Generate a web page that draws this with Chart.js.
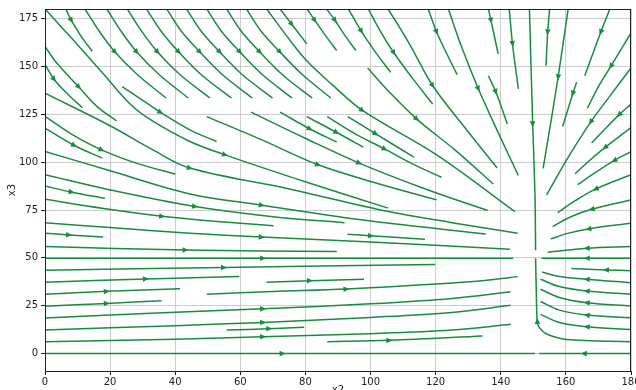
<!DOCTYPE html>
<html>
<head>
<meta charset="utf-8">
<script src="https://cdn.jsdelivr.net/npm/chart.js@4.4.0/dist/chart.umd.min.js"></script>
<style>
  html, body { margin: 0; padding: 0; background: #fff; overflow: hidden; }
  #wrap { width: 636px; height: 400px; }
</style>
</head>
<body>
<div id="wrap"><canvas id="streamCanvas" width="636" height="400"></canvas></div>
<script>
// tick labels
const xTicks = [0, 20, 40, 60, 80, 100, 120, 140, 160, 180];
const yTicks = [0, 25, 50, 75, 100, 125, 150, 175];

// streamlines, each point is [x2, x3], ordered along the flow
const topFamilyLines = [
  [[12.3,180],[16.5,168.8],[21.5,157.5],[28.5,145.5],[37.2,133.5]],
  [[19.0,180],[23.2,168.8],[28.2,157.5],[35.2,145.5],[44.0,133.5]],
  [[25.3,180],[29.5,168.8],[34.6,157.5],[41.6,145.5],[50.7,133.5]],
  [[31.2,180],[35.5,168.8],[41.1,157.5],[48.1,145.5],[57.3,133.5]],
  [[37.4,180],[41.7,168.8],[47.6,157.5],[54.6,145.5],[63.7,133.5]],
  [[43.5,180],[47.8,168.8],[53.7,157.5],[60.7,145.5],[69.9,133.5]],
  [[49.7,180],[54.0,168.8],[59.9,157.5],[66.9,145.5],[75.9,133.5]],
  [[55.8,180],[60.1,168.8],[66.0,157.5],[73.0,145.5],[82.1,133.5]],
  [[61.9,180],[66.2,168.8],[72.2,157.5],[79.2,145.5],[87.8,133.5]]
];
const topFamilyArrows = [
  [21.5,157.5],[28.2,157.5],[34.6,157.5],[41.1,157.5],[47.6,157.5],
  [53.7,157.5],[59.9,157.5],[66.0,157.5],[72.2,157.5]
];

const upperLeftLines = [
  [[6.4,180],[8.1,174],[11,166],[14.5,157.9]],
  [[0,180],[4.8,171],[9.9,161.5],[18.1,145.8],[26.3,130.1],[33,121.5],[44.5,110.8],[55.3,103.8],[80.4,89.5],[105.4,76]],
  [[0,160.5],[3.5,152],[10.4,139.2],[16,129],[22,121.5]],
  [[0,151],[2.8,143.2],[7,135.5],[11.5,128.4]],
  [[23.7,139.5],[29,133.5],[35.5,126],[44.5,116.9],[52.7,110.8]],
  [[0,136],[20,119],[33,106.5],[44.5,96.9],[75,86],[105,74.3],[125,68.4],[145.2,62.9]],
  [[0,123.9],[8,114.8],[17.4,106.4],[28,99.5],[40,93.8]],
  [[0,117.8],[9,108.7],[17.6,102.1]],
  [[0,105.6],[20,95.5],[44.5,83.4],[66.6,77.5],[100,69.2],[135.4,62.5]],
  [[0,93.4],[20,85.5],[46.1,76.8],[70,71.5],[92,68.4]],
  [[0,87.6],[8.2,84.3],[18.4,81.1]],
  [[0,80.6],[18,75.8],[36,71.7],[50,69.4],[70.2,66.8]]
];
const upperLeftArrows = [
  [8.1,174],[55.3,103.8],[10.4,139.2],[2.8,143.2],[35.5,126],[44.5,96.9],
  [17.4,106.4],[9,108.7],[66.6,77.5],[46.1,76.8],[8.2,84.3],[36,71.7]
];

const middleLines = [
  [[68.1,180],[74,166.5],[80.1,153.5],[88.2,140.5],[97.5,127],[120.3,103.8],[144.3,74.2]],
  [[99.1,149.2],[105.9,136.4],[114.2,122.5],[125.9,106.4],[137.7,88.6]],
  [[49.7,123.8],[66.8,111.5],[83.9,98.6],[101.9,89],[120.3,80.3]],
  [[63.3,126.1],[79.9,112.5],[96.5,99.5],[116.2,86.4],[136,74.7]],
  [[72.2,126.1],[81.4,117.3],[89.6,110.5]],
  [[80.4,123.8],[89.6,115.5],[97.8,107.8]],
  [[86.7,123.8],[95,115],[104.4,106.8],[113,99],[121.8,92.1]],
  [[93,123.8],[101.6,114.8],[113.3,102.6]]
];
const middleArrows = [
  [97.5,127],[114.2,122.5],[83.9,98.6],[96.5,99.5],[81.4,117.3],[89.6,115.5],[104.4,106.8],[101.6,114.8]
];

const topRightLines = [
  [[72.2,180],[75.8,172],[80.4,161.8]],
  [[80.5,180],[82.9,174],[86,166.5],[89.6,158.3]],
  [[86.5,180],[89.1,174],[92,166.5],[95.5,158.3]],
  [[93.2,180],[97.2,168.3],[101.5,157.5],[106.2,146.9]],
  [[99.3,180],[103,168.5],[107.2,157],[112.8,144],[119.1,130.3]],
  [[105.4,180],[112.1,161.3],[119.1,139.9],[129,118],[138.9,96.9]],
  [[117.7,180],[120.3,168],[123.3,157],[126.6,145.7]],
  [[123.9,180],[128.1,159.6],[133.1,138.3],[139.1,115.8],[145.4,93]],
  [[136.2,180],[137,173.9],[139.2,156.6]],
  [[136.2,145.1],[138.5,136.6],[142,119.9]],
  [[142.6,180],[143.6,161.7],[145.4,138.3]],
  [[148.8,180],[149.8,119.8],[150.5,82.9],[150.7,54]],
  [[155,180],[154.4,167.8],[153.9,150.4]],
  [[160.7,180],[157.6,144.3],[155,117],[153,96.8]],
  [[163.3,141.8],[162.1,135.7],[159,118.6]],
  [[173.5,180],[170.7,167.8],[165.8,145.1]]
];
const topRightArrows = [
  [75.8,172],[82.9,174],[89.1,174],[97.2,168.3],[107.2,157],[119.1,139.9],[120.3,168],[133.1,138.3],
  [137,173.9],[138.5,136.6],[143.6,161.7],[149.8,119.8],[154.4,167.8],[157.6,144.3],[162.1,135.7],[170.7,167.8]
];

const rightLines = [
  [[180,167.5],[173.8,150],[170,139.5],[166.6,128.2]],
  [[180,149.2],[173.5,134.5],[167.6,120.9],[160.6,102.2],[154.1,82.9]],
  [[180,130.3],[176.3,124.7],[172,117.3],[167.9,110]],
  [[180,118.1],[172,107.6],[167,100.5],[162.8,93.9]],
  [[180,105.5],[174.8,100.8],[169,94.5],[163.6,88.2]],
  [[180,93.4],[169.1,85.9],[163,80],[157.5,73.6]],
  [[180,80.3],[167.9,75.4],[161.5,71.5],[155.9,66.3]],
  [[180,68.1],[166.9,65.1],[160.5,62.8],[155.3,59.9]],
  [[180,55.9],[166.4,55],[154.4,52.9]],
  [[180,49.8],[166.4,49.8],[152.5,49.8]],
  [[180,43.3],[172.3,43.7],[161.7,44.4]],
  [[180,37],[166.4,38.8],[158,40.3],[152.7,42.6]],
  [[180,31],[166.4,32.7],[158,35],[152.2,38.8]],
  [[180,24.8],[166.4,26.6],[158,29.3],[152.2,33.6]],
  [[180,18.7],[166.4,20.1],[158,22.7],[152.2,27.2]],
  [[180,12.6],[166.4,14],[158,16.2],[152.2,20.5]],
  [[180,6.2],[160.2,7.4],[154.1,10.2],[151.8,13.7],[151.2,17],[150.9,33],[150.7,49.8]],
  [[180,0],[165.5,0],[151.8,0]]
];
const rightArrows = [
  [173.8,150],[167.6,120.9],[176.3,124.7],[172,107.6],[174.8,100.8],[169.1,85.9],[167.9,75.4],[166.9,65.1],
  [166.4,55],[166.4,49.8],[172.3,43.7],[166.4,38.8],[166.4,32.7],[166.4,26.6],[166.4,20.1],[166.4,14],
  [151.2,17],[165.5,0]
];

const lowerLeftLines = [
  [[0,68.4],[20,65.8],[44.5,62.9],[66.6,60.9],[100,58.3],[142.8,54.5]],
  [[92.9,62.3],[100.1,61.5],[116.7,59.7]],
  [[0,62.9],[7.4,62],[17.9,60.9]],
  [[0,55.9],[43.2,54.1],[89.6,53.3]],
  [[0,49.8],[67,49.8],[143.8,49.8]],
  [[0,43.5],[55,45],[84.5,45.8],[119.8,46.5]],
  [[0,37.2],[31,39],[59.7,40.2]],
  [[68,37.2],[81.4,38.1],[98,38.8]],
  [[0,31],[19,32.5],[41.5,33.9]],
  [[49.7,31],[70,32.4],[92.6,33.7],[120,36.3],[135,38.2],[145.2,40.2]],
  [[0,24.7],[19,26.2],[35.8,27.6]],
  [[0,18.6],[40,21.6],[67,23.4],[100,26],[125,28.8],[143,32.3]],
  [[0,12.3],[40,14.6],[67,16.3],[100,18.9],[125,21.5],[143,25.2]],
  [[55.8,12.3],[68.9,13],[79.6,13.7]],
  [[0,6.2],[40,7.5],[67,8.8],[100,10.4],[125,12.3],[143.1,15.3]],
  [[86.7,6.2],[105.8,6.9],[134.4,9.2]],
  [[0,0],[73,0],[150.5,0]]
];
const lowerLeftArrows = [
  [66.6,60.9],[100.1,61.5],[7.4,62],[43.2,54.1],[67,49.8],[55,45],[31,39],[81.4,38.1],
  [19,32.5],[92.6,33.7],[19,26.2],[67,23.4],[67,16.3],[68.9,13],[67,8.8],[105.8,6.9],[73,0]
];

const lineColor = '#1a8c3e';

function makeDatasets(lines, arrows) {
  return lines.map((line, i) => ({
    data: line.map(p => ({ x: p[0], y: p[1] })),
    arrow: arrows[i],
    showLine: true,
    borderColor: lineColor,
    borderWidth: 1.5,
    pointRadius: 0,
    tension: 0.35,
    fill: false
  }));
}

const datasets = [].concat(
  makeDatasets(topFamilyLines, topFamilyArrows),
  makeDatasets(upperLeftLines, upperLeftArrows),
  makeDatasets(middleLines, middleArrows),
  makeDatasets(topRightLines, topRightArrows),
  makeDatasets(rightLines, rightArrows),
  makeDatasets(lowerLeftLines, lowerLeftArrows)
);

// arrow heads at the marked point of each streamline, plus the box round the axes
const arrowPlugin = {
  id: 'arrowHeads',
  afterDatasetsDraw(chart) {
    const ctx = chart.ctx;
    const xs = chart.scales.x, ys = chart.scales.y;
    ctx.save();
    chart.data.datasets.forEach(ds => {
      if (!ds.arrow) return;
      const px = xs.getPixelForValue(ds.arrow[0]);
      const py = ys.getPixelForValue(ds.arrow[1]);
      const pts = ds.data.map(d => [xs.getPixelForValue(d.x), ys.getPixelForValue(d.y)]);
      let best = Infinity, idx = 0;
      pts.forEach((p, i) => {
        const d = Math.hypot(p[0] - px, p[1] - py);
        if (d < best) { best = d; idx = i; }
      });
      const a = pts[Math.max(idx - 1, 0)], b = pts[Math.min(idx + 1, pts.length - 1)];
      let dx = b[0] - a[0], dy = b[1] - a[1];
      const len = Math.hypot(dx, dy) || 1;
      dx /= len; dy /= len;
      const L = 6, W = 2.8;
      const tipX = px + dx * L / 2, tipY = py + dy * L / 2;
      const baseX = px - dx * L / 2, baseY = py - dy * L / 2;
      ctx.beginPath();
      ctx.moveTo(tipX, tipY);
      ctx.lineTo(baseX - dy * W, baseY + dx * W);
      ctx.lineTo(baseX + dy * W, baseY - dx * W);
      ctx.closePath();
      ctx.fillStyle = lineColor;
      ctx.fill();
    });
    const area = chart.chartArea;
    ctx.strokeStyle = '#222';
    ctx.lineWidth = 1;
    ctx.strokeRect(Math.round(area.left) + 0.5, Math.round(area.top) + 0.5,
      Math.round(area.right - area.left) - 1, Math.round(area.bottom - area.top));
    ctx.restore();
  }
};

const tickFont = { family: 'DejaVu Sans', size: 10 };

new Chart(document.getElementById('streamCanvas').getContext('2d'), {
  type: 'scatter',
  data: { datasets: datasets },
  plugins: [arrowPlugin],
  options: {
    responsive: false,
    animation: false,
    events: [],
    layout: { padding: { top: 9, right: 5, left: 0, bottom: 0 } },
    plugins: { legend: { display: false }, tooltip: { enabled: false } },
    scales: {
      x: {
        type: 'linear', min: 0, max: 180,
        afterBuildTicks: s => { s.ticks = xTicks.map(v => ({ value: v })); },
        afterFit: s => { s.height = 29; s.paddingLeft = 0; s.paddingRight = 0; },
        ticks: { color: '#222', font: tickFont, padding: 1, maxRotation: 0, autoSkip: false },
        grid: { color: '#cdcdcd', tickColor: '#222', tickLength: 4 },
        border: { display: false },
        title: { display: true, text: 'x2', color: '#222', font: tickFont, padding: 4 }
      },
      y: {
        type: 'linear', min: -9.1, max: 180,
        afterBuildTicks: s => { s.ticks = yTicks.map(v => ({ value: v })); },
        afterFit: s => { s.width = 45; s.paddingTop = 0; s.paddingBottom = 0; },
        ticks: { color: '#222', font: tickFont, padding: 3, autoSkip: false },
        grid: { color: '#cdcdcd', tickColor: '#222', tickLength: 4 },
        border: { display: false },
        title: { display: true, text: 'x3', color: '#222', font: tickFont, padding: { top: 6, bottom: 0 } }
      }
    }
  }
});
</script>
</body>
</html>
